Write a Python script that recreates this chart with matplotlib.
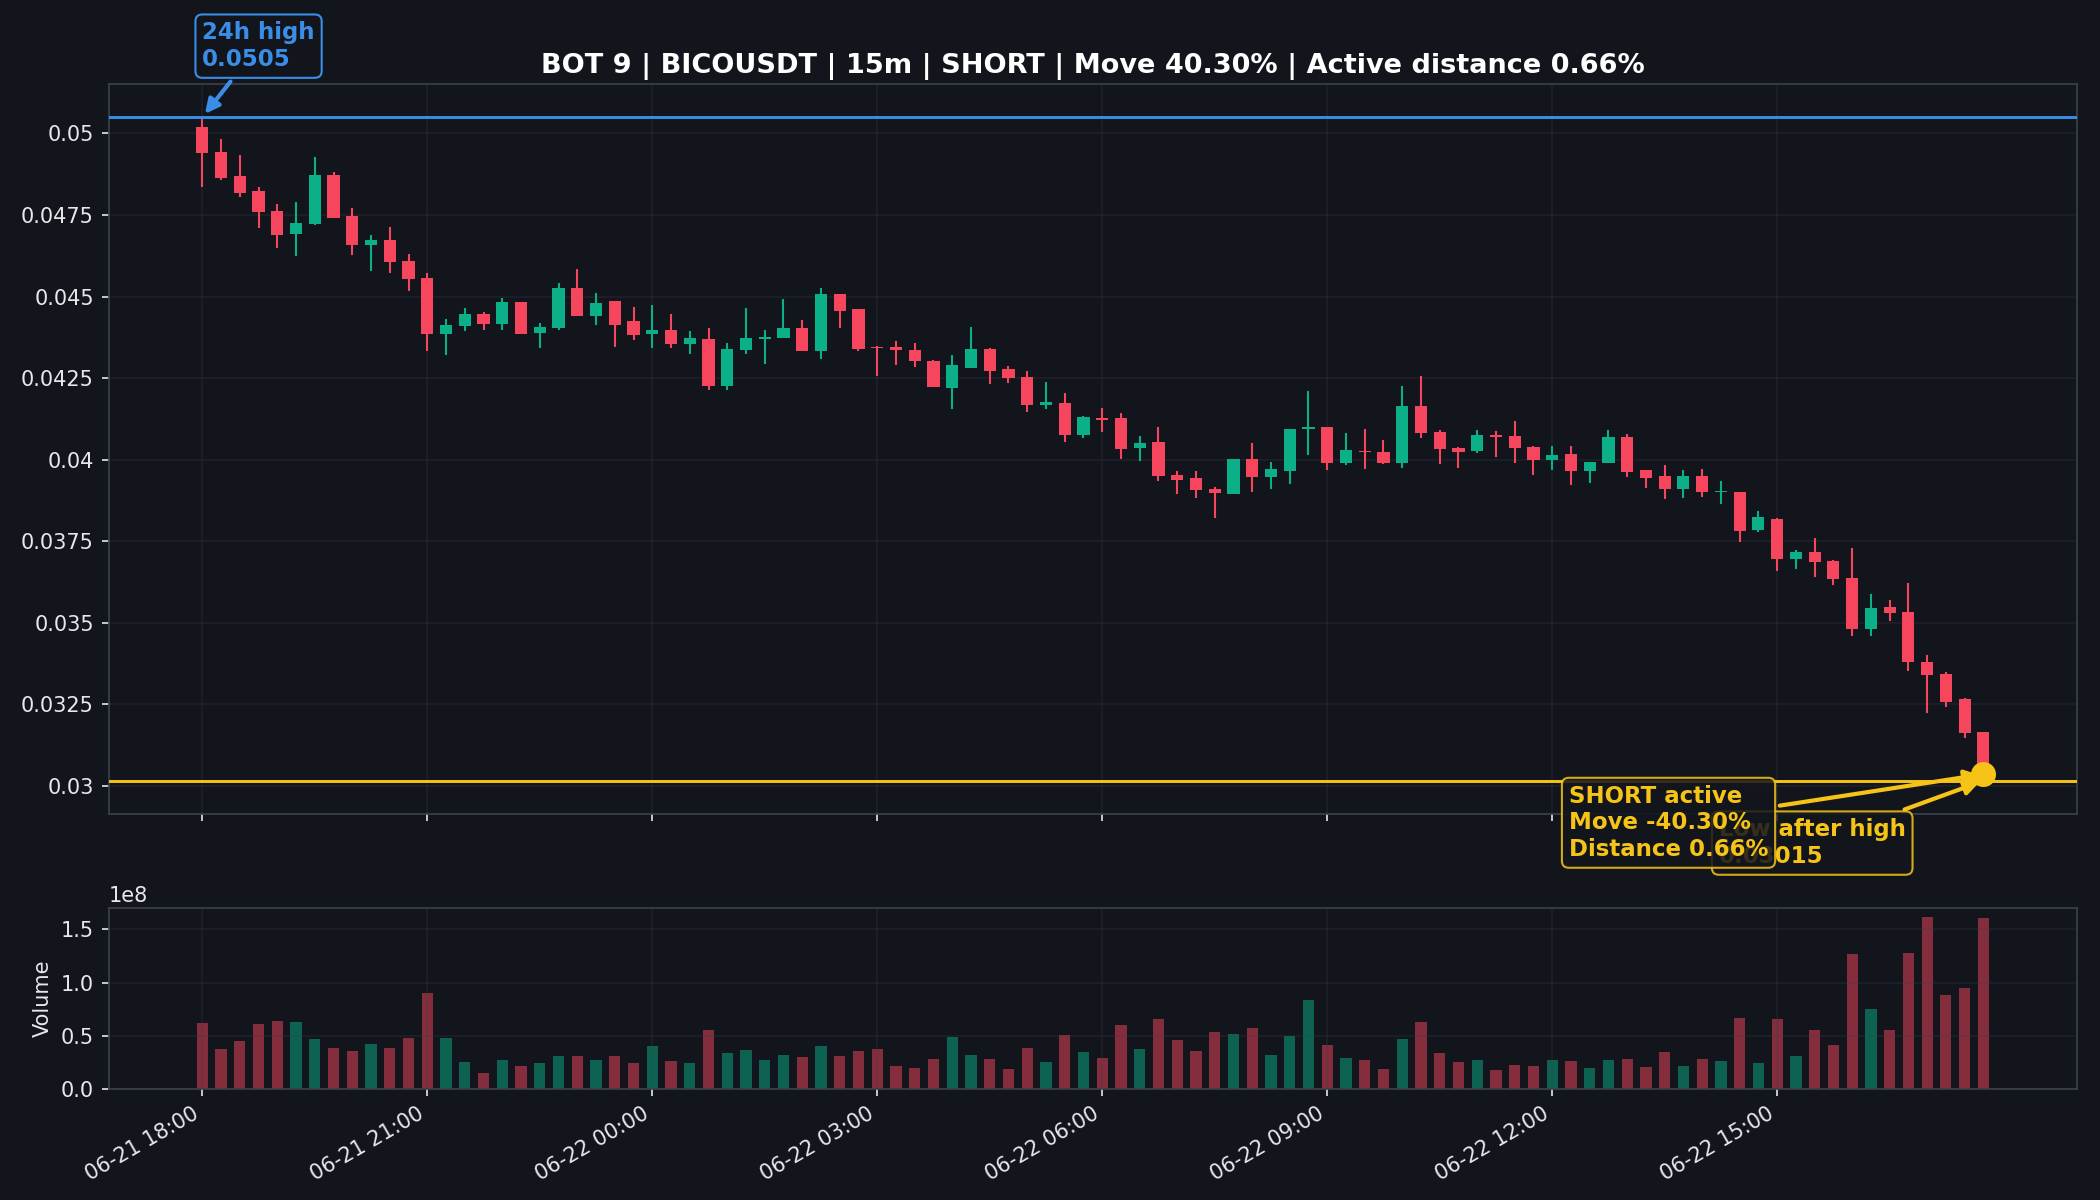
import matplotlib
matplotlib.use("Agg")
import matplotlib.pyplot as plt
import matplotlib.dates as mdates
import matplotlib.ticker as mticker
import numpy as np
import pandas as pd

# 15m candles BICOUSDT, 06-21 18:00 -> 06-22 17:45
start = "2024-06-21 18:00"
opens = [0.05021, 0.04942, 0.04869, 0.04823, 0.04762, 0.04691, 0.04722, 0.04872, 0.04748, 0.04658, 0.04674, 0.04610,
         0.04558, 0.04386, 0.04411, 0.04445, 0.04417, 0.04482, 0.04387, 0.04402, 0.04526, 0.04440, 0.04486, 0.04424,
         0.04384, 0.04396, 0.04355, 0.04371, 0.04226, 0.04335, 0.04370, 0.04372, 0.04402, 0.04332, 0.04507, 0.04461,
         0.04346, 0.04346, 0.04337, 0.04303, 0.04220, 0.04280, 0.04338, 0.04278, 0.04254, 0.04168, 0.04173, 0.04074,
         0.04129, 0.04126, 0.04036, 0.04054, 0.03953, 0.03942, 0.03910, 0.03894, 0.04002, 0.03946, 0.03964, 0.04093,
         0.04101, 0.03989, 0.04027, 0.04023, 0.03989, 0.04164, 0.04085, 0.04037, 0.04026, 0.04075, 0.04072, 0.04040,
         0.04000, 0.04017, 0.03964, 0.03990, 0.04070, 0.03968, 0.03950, 0.03911, 0.03950, 0.03900, 0.03901, 0.03785,
         0.03819, 0.03695, 0.03718, 0.03690, 0.03638, 0.03480, 0.03549, 0.03534, 0.03379, 0.03343, 0.03266, 0.03164]
highs = [0.05050, 0.04983, 0.04934, 0.04835, 0.04784, 0.04790, 0.04927, 0.04883, 0.04772, 0.04688, 0.04714, 0.04629,
         0.04571, 0.04431, 0.04466, 0.04452, 0.04497, 0.04484, 0.04420, 0.04541, 0.04585, 0.04510, 0.04486, 0.04467,
         0.04473, 0.04445, 0.04393, 0.04402, 0.04358, 0.04464, 0.04396, 0.04492, 0.04428, 0.04526, 0.04508, 0.04462,
         0.04347, 0.04365, 0.04358, 0.04306, 0.04320, 0.04407, 0.04343, 0.04286, 0.04271, 0.04237, 0.04203, 0.04135,
         0.04159, 0.04144, 0.04073, 0.04100, 0.03965, 0.03965, 0.03916, 0.04002, 0.04052, 0.03994, 0.04095, 0.04211,
         0.04101, 0.04083, 0.04095, 0.04061, 0.04227, 0.04257, 0.04092, 0.04038, 0.04092, 0.04089, 0.04119, 0.04042,
         0.04043, 0.04042, 0.03993, 0.04092, 0.04079, 0.03968, 0.03984, 0.03968, 0.03971, 0.03934, 0.03901, 0.03841,
         0.03820, 0.03722, 0.03759, 0.03691, 0.03728, 0.03589, 0.03568, 0.03620, 0.03402, 0.03349, 0.03270, 0.03166]
lows = [0.04835, 0.04857, 0.04804, 0.04709, 0.04648, 0.04624, 0.04720, 0.04740, 0.04627, 0.04578, 0.04573, 0.04517,
        0.04332, 0.04320, 0.04395, 0.04398, 0.04398, 0.04384, 0.04343, 0.04397, 0.04440, 0.04414, 0.04346, 0.04366,
        0.04343, 0.04341, 0.04325, 0.04214, 0.04214, 0.04325, 0.04293, 0.04372, 0.04332, 0.04307, 0.04405, 0.04332,
        0.04257, 0.04291, 0.04285, 0.04223, 0.04155, 0.04280, 0.04231, 0.04236, 0.04146, 0.04155, 0.04053, 0.04065,
        0.04084, 0.04003, 0.03995, 0.03934, 0.03894, 0.03881, 0.03822, 0.03894, 0.03901, 0.03911, 0.03924, 0.04015,
        0.03967, 0.03983, 0.03972, 0.03986, 0.03974, 0.04066, 0.03986, 0.03974, 0.04020, 0.04007, 0.03988, 0.03952,
        0.03967, 0.03923, 0.03927, 0.03990, 0.03946, 0.03912, 0.03878, 0.03881, 0.03884, 0.03865, 0.03747, 0.03777,
        0.03658, 0.03665, 0.03640, 0.03616, 0.03458, 0.03458, 0.03504, 0.03351, 0.03222, 0.03241, 0.03145, 0.03015]
closes = [0.04939, 0.04865, 0.04819, 0.04758, 0.04688, 0.04726, 0.04872, 0.04742, 0.04658, 0.04673, 0.04606, 0.04554,
          0.04386, 0.04412, 0.04445, 0.04417, 0.04482, 0.04386, 0.04407, 0.04526, 0.04440, 0.04481, 0.04414, 0.04383,
          0.04396, 0.04355, 0.04372, 0.04226, 0.04340, 0.04374, 0.04377, 0.04402, 0.04332, 0.04507, 0.04456, 0.04340,
          0.04342, 0.04336, 0.04301, 0.04223, 0.04290, 0.04338, 0.04273, 0.04249, 0.04167, 0.04176, 0.04074, 0.04132,
          0.04122, 0.04032, 0.04052, 0.03950, 0.03937, 0.03906, 0.03898, 0.04002, 0.03946, 0.03970, 0.04095, 0.04099,
          0.03989, 0.04030, 0.04022, 0.03989, 0.04164, 0.04081, 0.04033, 0.04022, 0.04075, 0.04068, 0.04036, 0.03999,
          0.04014, 0.03964, 0.03993, 0.04070, 0.03961, 0.03943, 0.03911, 0.03950, 0.03900, 0.03905, 0.03780, 0.03823,
          0.03695, 0.03718, 0.03686, 0.03635, 0.03480, 0.03545, 0.03530, 0.03378, 0.03338, 0.03258, 0.03160, 0.03035]
# volume in units of 1e8
volumes = [0.62, 0.38, 0.45, 0.61, 0.64, 0.63, 0.47, 0.39, 0.36, 0.42, 0.39, 0.48,
           0.90, 0.48, 0.25, 0.15, 0.27, 0.22, 0.24, 0.31, 0.31, 0.27, 0.31, 0.24,
           0.40, 0.26, 0.24, 0.55, 0.34, 0.37, 0.27, 0.32, 0.30, 0.40, 0.31, 0.36,
           0.38, 0.22, 0.20, 0.28, 0.49, 0.32, 0.28, 0.19, 0.39, 0.25, 0.51, 0.35,
           0.29, 0.60, 0.38, 0.66, 0.46, 0.36, 0.54, 0.52, 0.57, 0.32, 0.50, 0.84,
           0.41, 0.29, 0.27, 0.19, 0.47, 0.63, 0.34, 0.25, 0.27, 0.18, 0.23, 0.22,
           0.27, 0.26, 0.20, 0.27, 0.28, 0.21, 0.35, 0.22, 0.28, 0.26, 0.67, 0.24,
           0.66, 0.31, 0.55, 0.41, 1.27, 0.75, 0.55, 1.28, 1.62, 0.88, 0.95, 1.61]

high_24h = 0.0505
low_after_high = 0.03015
title = "BOT 9 | BICOUSDT | 15m | SHORT | Move 40.30% | Active distance 0.66%"
short_label = "SHORT active\nMove -40.30%\nDistance 0.66%"

BG = "#12151c"
UP = "#0bb088"
DN = "#f6465d"
BLUE = "#3a8ee8"
GOLD = "#f6c417"
TXT = "#e6e8ec"

o = np.array(opens)
h = np.array(highs)
l = np.array(lows)
c = np.array(closes)
v = np.array(volumes) * 1e8

times = pd.date_range(start, periods=len(o), freq="15min")
x = mdates.date2num(times)
dt = x[1] - x[0]
cols = np.where(c >= o, UP, DN)

fig = plt.figure(figsize=(14, 8), dpi=150, facecolor=BG)
ax = fig.add_axes([0.0517, 0.3217, 0.9374, 0.6083], facecolor=BG)
axv = fig.add_axes([0.0517, 0.0925, 0.9374, 0.1508], facecolor=BG, sharex=ax)

# candles
ax.vlines(x, l, h, colors=cols, lw=1.0, zorder=2)
ax.bar(x, np.abs(c - o), bottom=np.minimum(o, c), width=dt * 0.65, color=cols, zorder=3)

ax.axhline(high_24h, color=BLUE, lw=1.4, zorder=4)
ax.axhline(low_after_high, color=GOLD, lw=1.4, zorder=4)
ax.plot(x[-1], c[-1], "o", color=GOLD, ms=11, zorder=6)

ax.annotate("24h high\n0.0505", xy=(x[0], high_24h), xytext=(0, 46), textcoords="offset points",
            ha="left", va="top", color=BLUE, fontsize=11, fontweight="bold",
            bbox=dict(boxstyle="round,pad=0.3", fc=BG, ec=BLUE, lw=1.0),
            arrowprops=dict(arrowstyle="-|>", color=BLUE, lw=2, mutation_scale=14), zorder=7)
ax.annotate("Low after high\n0.03015", xy=(x[-1], low_after_high), xytext=(-127, -18), textcoords="offset points",
            ha="left", va="top", color=GOLD, fontsize=11, fontweight="bold",
            bbox=dict(boxstyle="round,pad=0.3", fc=BG, ec=GOLD, lw=1.0, alpha=0.85),
            arrowprops=dict(arrowstyle="-|>", color=GOLD, lw=2, mutation_scale=14), zorder=7)
ax.annotate(short_label, xy=(x[-1], c[-1]), xytext=(-199, -5), textcoords="offset points",
            ha="left", va="top", color=GOLD, fontsize=11, fontweight="bold",
            bbox=dict(boxstyle="round,pad=0.3", fc=BG, ec=GOLD, lw=1.0, alpha=0.85),
            arrowprops=dict(arrowstyle="-|>", color=GOLD, lw=2, mutation_scale=14), zorder=8)

ax.set_title(title, color="white", fontsize=13, fontweight="bold", pad=5.5)

# volume
axv.bar(x, v, width=dt * 0.6, color=cols, alpha=0.5)
axv.set_ylabel("Volume", color=TXT, fontsize=10)

ax.set_xlim(x[0] - 5 * dt, x[-1] + 5 * dt)
ax.yaxis.set_major_formatter(mticker.StrMethodFormatter("{x:g}"))
# ticks every 3h within the data range
axv.xaxis.set_major_locator(mticker.FixedLocator(x[::12]))
axv.xaxis.set_major_formatter(mdates.DateFormatter("%m-%d %H:%M"))
plt.setp(ax.get_xticklabels(), visible=False)
plt.setp(axv.get_xticklabels(), rotation=30, ha="right")

for a in (ax, axv):
    a.grid(True, color="#3a3f4c", alpha=0.28, lw=0.8)
    a.tick_params(colors=TXT, labelsize=10)
    a.yaxis.get_offset_text().set_color(TXT)
    for s in a.spines.values():
        s.set_color("#3c414d")

fig.savefig("out.png", dpi=150, facecolor=BG)
